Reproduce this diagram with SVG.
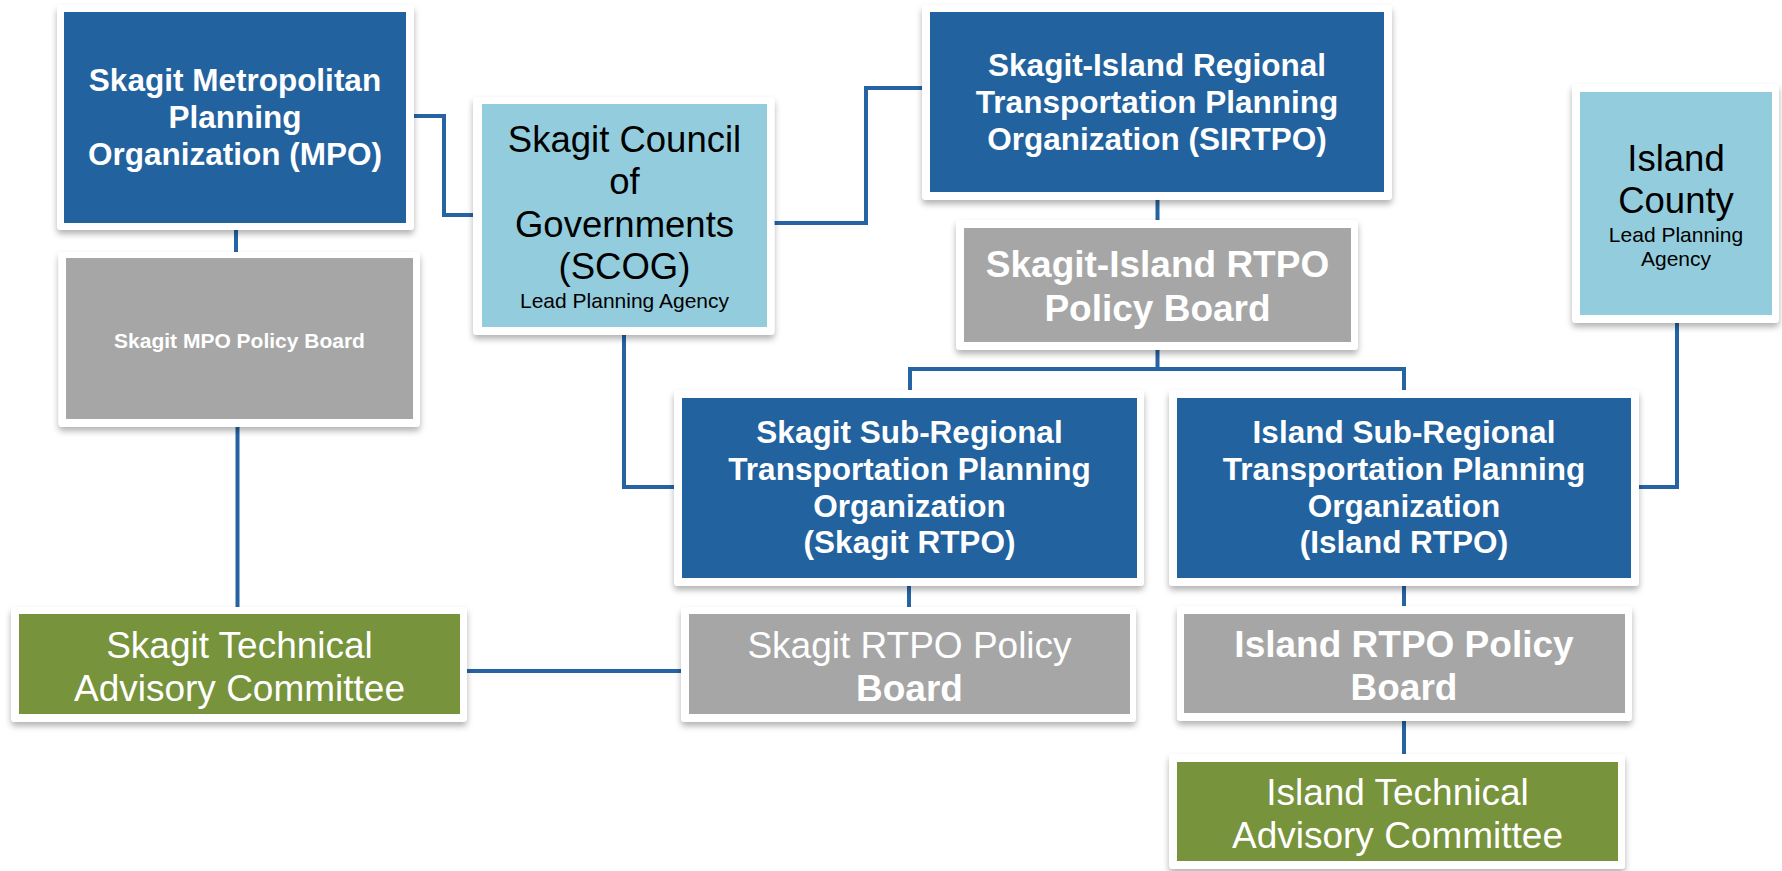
<svg xmlns="http://www.w3.org/2000/svg" width="1782" height="871" viewBox="0 0 1782 871">
<defs>
<filter id="sh" x="-10%" y="-10%" width="120%" height="130%">
<feDropShadow dx="0" dy="4" stdDeviation="3" flood-color="#000" flood-opacity="0.3"/>
</filter>
</defs>
<style>
.frame{fill:#fff;filter:url(#sh)}
.blue{fill:#22629E}
.lblue{fill:#93CDDD}
.grey{fill:#A6A6A6}
.green{fill:#77933C}
.conn{fill:none;stroke:#2563A3;stroke-width:4}
text{font-family:"Liberation Sans",Arial,sans-serif;text-anchor:middle}
.wb{fill:#fff;font-weight:bold}
.w{fill:#fff}
.k{fill:#000}
</style>
<rect width="1782" height="871" fill="#fff"/>
<g id="connectors">
<polyline class="conn" points="414,116 444,116 444,215 473,215"/>
<polyline class="conn" points="774,223 866,223 866,88 922,88"/>
<polyline class="conn" points="624,335 624,487 674,487"/>
<line class="conn" x1="236" y1="230" x2="236" y2="252"/>
<line class="conn" x1="237.5" y1="427" x2="237.5" y2="607"/>
<line class="conn" x1="467" y1="671" x2="681" y2="671"/>
<line class="conn" x1="1157.5" y1="200" x2="1157.5" y2="220"/>
<line class="conn" x1="1157.5" y1="350" x2="1157.5" y2="369"/>
<polyline class="conn" points="910,390 910,369 1404,369 1404,390"/>
<polyline class="conn" points="1677,323 1677,487 1639,487"/>
<line class="conn" x1="909" y1="586" x2="909" y2="607"/>
<line class="conn" x1="1404" y1="586" x2="1404" y2="606"/>
<line class="conn" x1="1404" y1="721" x2="1404" y2="754"/>
</g>
<g id="mpo">
<rect class="frame" x="57" y="5" width="357" height="225" rx="4"/>
<rect class="blue" x="64" y="12" width="342" height="211"/>
<text class="wb" font-size="31.5"><tspan x="235" y="91">Skagit Metropolitan</tspan><tspan x="235" y="128">Planning</tspan><tspan x="235" y="165">Organization (MPO)</tspan></text>
</g>
<g id="mpo-policy">
<rect class="frame" x="58.5" y="252" width="361.5" height="175" rx="4"/>
<rect class="grey" x="66" y="258" width="347" height="161"/>
<text class="wb" font-size="21" x="239.5" y="348">Skagit MPO Policy Board</text>
</g>
<g id="scog">
<rect class="frame" x="473" y="97" width="301.5" height="238" rx="4"/>
<rect class="lblue" x="482" y="104" width="285" height="223"/>
<text class="k" font-size="36.5"><tspan x="624.5" y="152">Skagit Council</tspan><tspan x="624.5" y="194">of</tspan><tspan x="624.5" y="237">Governments</tspan><tspan x="624.5" y="279">(SCOG)</tspan></text>
<text class="k" font-size="21" x="624.5" y="308">Lead Planning Agency</text>
</g>
<g id="sirtpo">
<rect class="frame" x="922" y="5" width="470" height="195" rx="4"/>
<rect class="blue" x="930" y="12" width="454" height="180"/>
<text class="wb" font-size="31.5"><tspan x="1157" y="76">Skagit-Island Regional</tspan><tspan x="1157" y="113">Transportation Planning</tspan><tspan x="1157" y="150">Organization (SIRTPO)</tspan></text>
</g>
<g id="si-policy">
<rect class="frame" x="956" y="220" width="402" height="130" rx="4"/>
<rect class="grey" x="964" y="228" width="387" height="114"/>
<text class="wb" font-size="37"><tspan x="1157.5" y="277">Skagit-Island RTPO</tspan><tspan x="1157.5" y="321">Policy Board</tspan></text>
</g>
<g id="island-county">
<rect class="frame" x="1572" y="84" width="207" height="239" rx="4"/>
<rect class="lblue" x="1580" y="92" width="192" height="223"/>
<text class="k" font-size="36.5"><tspan x="1676" y="171">Island</tspan><tspan x="1676" y="213">County</tspan></text>
<text class="k" font-size="21"><tspan x="1676" y="242">Lead Planning</tspan><tspan x="1676" y="266">Agency</tspan></text>
</g>
<g id="skagit-sub">
<rect class="frame" x="674" y="390" width="470" height="196" rx="4"/>
<rect class="blue" x="682" y="398" width="455" height="180"/>
<text class="wb" font-size="31.5"><tspan x="909.5" y="443">Skagit Sub-Regional</tspan><tspan x="909.5" y="480">Transportation Planning</tspan><tspan x="909.5" y="517">Organization</tspan><tspan x="909.5" y="553">(Skagit RTPO)</tspan></text>
</g>
<g id="island-sub">
<rect class="frame" x="1169" y="390" width="470" height="196" rx="4"/>
<rect class="blue" x="1177" y="398" width="454" height="180"/>
<text class="wb" font-size="31.5"><tspan x="1404" y="443">Island Sub-Regional</tspan><tspan x="1404" y="480">Transportation Planning</tspan><tspan x="1404" y="517">Organization</tspan><tspan x="1404" y="553">(Island RTPO)</tspan></text>
</g>
<g id="skagit-tac">
<rect class="frame" x="11" y="607" width="456" height="115" rx="4"/>
<rect class="green" x="19" y="614" width="441" height="100"/>
<text class="w" font-size="37"><tspan x="239.5" y="658">Skagit Technical</tspan><tspan x="239.5" y="701">Advisory Committee</tspan></text>
</g>
<g id="skagit-policy">
<rect class="frame" x="681" y="607" width="455" height="115" rx="4"/>
<rect class="grey" x="689" y="614" width="441" height="100"/>
<text font-size="37"><tspan class="w" x="909.5" y="658">Skagit RTPO Policy</tspan><tspan class="wb" x="909.5" y="701">Board</tspan></text>
</g>
<g id="island-policy">
<rect class="frame" x="1177" y="606" width="455" height="115" rx="4"/>
<rect class="grey" x="1184" y="614" width="441" height="99"/>
<text class="wb" font-size="37"><tspan x="1404" y="657">Island RTPO Policy</tspan><tspan x="1404" y="700">Board</tspan></text>
</g>
<g id="island-tac">
<rect class="frame" x="1169" y="754" width="456" height="115" rx="4"/>
<rect class="green" x="1177" y="762" width="441" height="99"/>
<text class="w" font-size="37"><tspan x="1397.5" y="805">Island Technical</tspan><tspan x="1397.5" y="848">Advisory Committee</tspan></text>
</g>
</svg>
